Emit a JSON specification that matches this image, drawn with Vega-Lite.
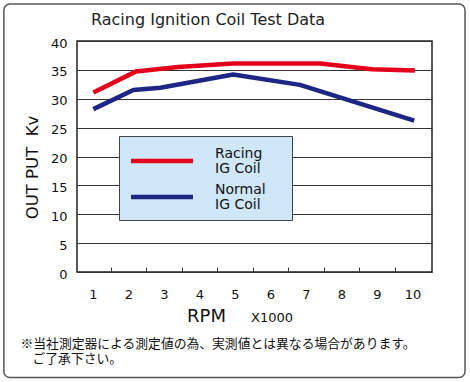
{
  "$schema": "https://vega.github.io/schema/vega-lite/v6.json",
  "width": 355,
  "height": 231,
  "autosize": {"type": "none"},
  "padding": {"left": 77, "top": 41, "right": 38, "bottom": 110},
  "background": "white",
  "title": {
    "text": "Racing Ignition Coil Test Data",
    "frame": "group",
    "anchor": "start",
    "dx": 14,
    "offset": -38,
    "baseline": "alphabetic",
    "font": "DejaVu Sans",
    "fontSize": 16,
    "fontWeight": "normal",
    "color": "#222"
  },
  "config": {
    "font": "DejaVu Sans",
    "view": {"stroke": "#222", "strokeWidth": 1.5},
    "style": {"guide-label": {"lineHeight": 15}}
  },
  "datasets": {
    "coil": [
      {"series": "Racing", "rpm": 1.01, "kv": 31.1},
      {"series": "Racing", "rpm": 2.2, "kv": 34.7},
      {"series": "Racing", "rpm": 3.4, "kv": 35.5},
      {"series": "Racing", "rpm": 4.95, "kv": 36.1},
      {"series": "Racing", "rpm": 7.4, "kv": 36.1},
      {"series": "Racing", "rpm": 8.85, "kv": 35.1},
      {"series": "Racing", "rpm": 10.07, "kv": 34.9},
      {"series": "Normal", "rpm": 1.01, "kv": 28.2},
      {"series": "Normal", "rpm": 2.14, "kv": 31.5},
      {"series": "Normal", "rpm": 2.9, "kv": 31.9},
      {"series": "Normal", "rpm": 4.95, "kv": 34.2},
      {"series": "Normal", "rpm": 6.83, "kv": 32.4},
      {"series": "Normal", "rpm": 10.05, "kv": 26.2}
    ]
  },
  "layer": [
    {
      "data": {"values": [{"frame": 1}]},
      "mark": {"type": "rect", "filled": false, "stroke": "#555", "strokeWidth": 1.5, "cornerRadius": 6, "clip": false},
      "encoding": {
        "x": {
          "datum": -1.51,
          "type": "quantitative",
          "scale": {"domain": [0.55, 10.55]},
          "axis": {
            "orient": "bottom",
            "values": [1.5, 2.5, 3.5, 4.5, 5.5, 6.5, 7.5, 8.5, 9.5],
            "labels": false,
            "ticks": true,
            "tickSize": -5,
            "tickColor": "#333",
            "tickWidth": 1,
            "domain": false,
            "grid": false,
            "title": "X1000",
            "titleX": 194.5,
            "titleY": 45,
            "titleAlign": "center",
            "titleBaseline": "middle",
            "titleFont": "DejaVu Sans",
            "titleFontSize": 13,
            "titleFontWeight": "normal",
            "titleColor": "#111"
          }
        },
        "x2": {"datum": 11.48},
        "y": {
          "datum": 46.41,
          "type": "quantitative",
          "scale": {"domain": [0, 40]},
          "axis": {
            "orient": "left",
            "values": [],
            "labels": false,
            "ticks": false,
            "domain": false,
            "grid": false,
            "title": "ご了承下さい。",
            "titleAngle": 0,
            "titleX": -45,
            "titleY": 321.5,
            "titleAlign": "left",
            "titleBaseline": "alphabetic",
            "titleFont": "Noto Sans CJK JP",
            "titleFontSize": 12.8,
            "titleFontWeight": "normal",
            "titleColor": "#111"
          }
        },
        "y2": {"datum": -18.27}
      }
    },
    {
      "data": {"name": "coil"},
      "transform": [{"filter": "datum.series === 'Racing'"}],
      "mark": {"type": "line", "strokeWidth": 4.5, "strokeJoin": "round", "clip": false},
      "encoding": {
        "x": {
          "field": "rpm",
          "type": "quantitative",
          "scale": {"domain": [0.55, 10.55]},
          "axis": {
            "orient": "bottom",
            "values": [1, 2, 3, 4, 5, 6, 7, 8, 9, 10],
            "format": "d",
            "ticks": false,
            "domain": false,
            "grid": false,
            "labelOverlap": false,
            "labelFont": "DejaVu Sans",
            "labelFontSize": 13,
            "labelColor": "#111",
            "labelBaseline": "middle",
            "labelPadding": 22,
            "title": "RPM",
            "titleX": 129,
            "titleY": 44,
            "titleAlign": "center",
            "titleBaseline": "middle",
            "titleFont": "DejaVu Sans",
            "titleFontSize": 18,
            "titleFontWeight": "normal",
            "titleColor": "#111"
          }
        },
        "y": {
          "field": "kv",
          "type": "quantitative",
          "scale": {"domain": [0, 40]},
          "axis": {
            "orient": "left",
            "title": "OUT PUT\u00a0\u00a0Kv",
            "values": [0, 5, 10, 15, 20, 25, 30, 35, 40],
            "grid": true,
            "gridColor": "#333",
            "gridWidth": 1,
            "gridOpacity": 1,
            "domain": false,
            "ticks": false,
            "labelOverlap": false,
            "labelPadding": 10,
            "labelFont": "DejaVu Sans",
            "labelFontSize": 13,
            "labelColor": "#111",
            "labelOffset": 2,
            "titleX": -45,
            "titleY": 126,
            "titleAngle": -90,
            "titleAlign": "center",
            "titleBaseline": "middle",
            "titleFont": "DejaVu Sans",
            "titleFontSize": 16.5,
            "titleFontWeight": "normal",
            "titleColor": "#111"
          }
        },
        "color": {
          "field": "series",
          "type": "nominal",
          "scale": {"domain": ["Racing", "Normal"], "range": ["#e3001b", "#1d2585"]},
          "legend": {
            "title": "\u200b",
            "titleFontSize": 2,
            "titlePadding": 5,
            "orient": "none",
            "legendX": 42,
            "legendY": 95,
            "direction": "vertical",
            "fillColor": "#cfe7f8",
            "strokeColor": "#444",
            "padding": 8,
            "symbolType": "M-4,0H4",
            "symbolSize": 240,
            "symbolOffset": 25,
            "symbolStrokeWidth": 4.5,
            "labelFont": "DejaVu Sans",
            "labelFontSize": 14,
            "labelColor": "#111",
            "labelOffset": 43,
            "labelLimit": 250,
            "labelBaseline": "bottom",
            "labelExpr": "[datum.label + '\u00a0\u00a0\u00a0\u00a0\u200b', 'IG Coil']",
            "rowPadding": 7
          }
        }
      }
    },
    {
      "data": {"name": "coil"},
      "transform": [{"filter": "datum.series === 'Normal'"}],
      "mark": {"type": "line", "strokeWidth": 4.5, "strokeJoin": "round", "clip": false},
      "encoding": {
        "x": {
          "field": "rpm",
          "type": "quantitative",
          "scale": {"domain": [0.55, 10.55]},
          "axis": {
            "orient": "bottom",
            "values": [],
            "labels": false,
            "ticks": false,
            "domain": false,
            "grid": false,
            "title": "※当社測定器による測定値の為、実測値とは異なる場合があります。",
            "titleX": -57,
            "titleY": 75,
            "titleAlign": "left",
            "titleBaseline": "alphabetic",
            "titleFont": "Noto Sans CJK JP",
            "titleFontSize": 12.8,
            "titleFontWeight": "normal",
            "titleColor": "#111",
            "titleLimit": 0
          }
        },
        "y": {
          "field": "kv",
          "type": "quantitative",
          "scale": {"domain": [0, 40]},
          "axis": null
        },
        "color": {
          "field": "series",
          "type": "nominal",
          "scale": {"domain": ["Racing", "Normal"], "range": ["#e3001b", "#1d2585"]}
        }
      }
    }
  ],
  "resolve": {"axis": {"x": "independent", "y": "independent"}}
}
